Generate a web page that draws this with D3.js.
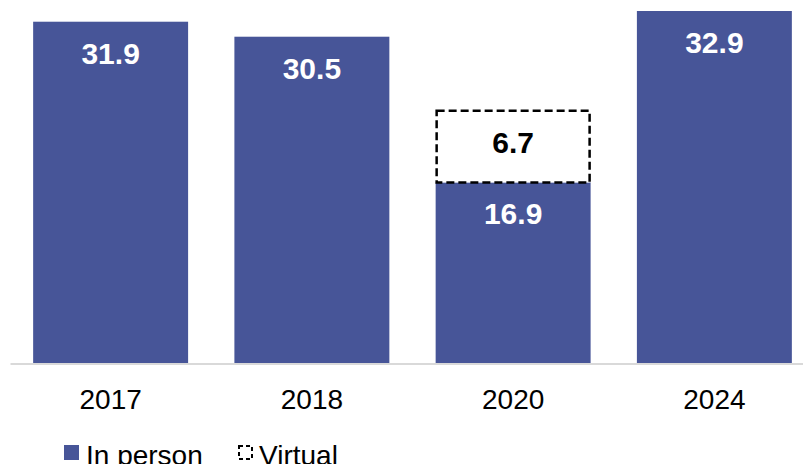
<!DOCTYPE html>
<html>
<head>
<meta charset="utf-8">
<script src="https://cdn.jsdelivr.net/npm/d3@7"></script>
<style>
  html, body { margin: 0; padding: 0; background: #fff; }
  svg { display: block; font-family: "Liberation Sans", Arial, sans-serif; }
</style>
</head>
<body>
<svg id="chart" width="803" height="464"></svg>
<script>
// Attendance by year: in-person and virtual
const years = ["2017", "2018", "2020", "2024"];
const inPerson = [31.9, 30.5, 16.9, 32.9];
const virtual = [null, null, 6.7, null];
const legendLabels = ["In person", "Virtual"];

const barColor = "#475598";
const svg = d3.select("#chart");

const x = d3.scaleBand()
  .domain(years)
  .range([10, 815])
  .paddingInner(0.23)
  .paddingOuter(0.115);

const y = d3.scaleLinear()
  .domain([0, 32.9])
  .range([363.5, 11]);

// In-person bars
svg.append("g").selectAll("rect")
  .data(years.map((yr, i) => ({ yr, v: inPerson[i] })))
  .join("rect")
  .attr("x", d => x(d.yr))
  .attr("y", d => y(d.v))
  .attr("width", x.bandwidth())
  .attr("height", d => y(0) - y(d.v))
  .attr("fill", barColor);

// Virtual segments stacked on top, dashed outline
const virt = years.map((yr, i) => ({ yr, base: inPerson[i], v: virtual[i] })).filter(d => d.v != null);
svg.append("g").selectAll("rect")
  .data(virt)
  .join("rect")
  .attr("x", d => x(d.yr) + 1)
  .attr("y", d => y(d.base + d.v))
  .attr("width", x.bandwidth() - 2)
  .attr("height", d => y(d.base) - y(d.base + d.v))
  .attr("fill", "#fff")
  .attr("stroke", "#000")
  .attr("stroke-width", 2.5)
  .attr("stroke-dasharray", "8,4");

// Value labels
svg.append("g").selectAll("text")
  .data(years.map((yr, i) => ({ yr, v: inPerson[i] })))
  .join("text")
  .attr("x", d => x(d.yr) + x.bandwidth() / 2)
  .attr("y", d => y(d.v) + 42)
  .attr("text-anchor", "middle")
  .attr("font-size", 30)
  .attr("font-weight", "bold")
  .attr("fill", "#fff")
  .text(d => d.v.toFixed(1));

svg.append("g").selectAll("text")
  .data(virt)
  .join("text")
  .attr("x", d => x(d.yr) + x.bandwidth() / 2)
  .attr("y", d => y(d.base + d.v) + 42)
  .attr("text-anchor", "middle")
  .attr("font-size", 30)
  .attr("font-weight", "bold")
  .attr("fill", "#000")
  .text(d => d.v.toFixed(1));

// Category axis
const axis = svg.append("g")
  .attr("transform", `translate(0,${y(0)})`)
  .call(d3.axisBottom(x).tickSize(0).tickPadding(0));
axis.select(".domain").attr("stroke", "#d9d9d9").attr("stroke-width", 2);
axis.selectAll("text")
  .attr("font-size", 28)
  .attr("fill", "#000")
  .attr("font-family", "'Liberation Sans', Arial, sans-serif")
  .attr("dy", null)
  .attr("y", 45);

// Legend
const lg = svg.append("g");
lg.append("rect").attr("x", 64).attr("y", 445).attr("width", 15).attr("height", 15).attr("fill", barColor);
lg.append("text").attr("x", 86).attr("y", 465).attr("font-size", 28).attr("fill", "#000").text(legendLabels[0]);
lg.append("rect").attr("x", 239).attr("y", 446).attr("width", 13).attr("height", 13)
  .attr("fill", "#fff").attr("stroke", "#000").attr("stroke-width", 2).attr("stroke-dasharray", "4,3");
lg.append("text").attr("x", 259).attr("y", 465).attr("font-size", 28).attr("fill", "#000").text(legendLabels[1]);
</script>
</body>
</html>
